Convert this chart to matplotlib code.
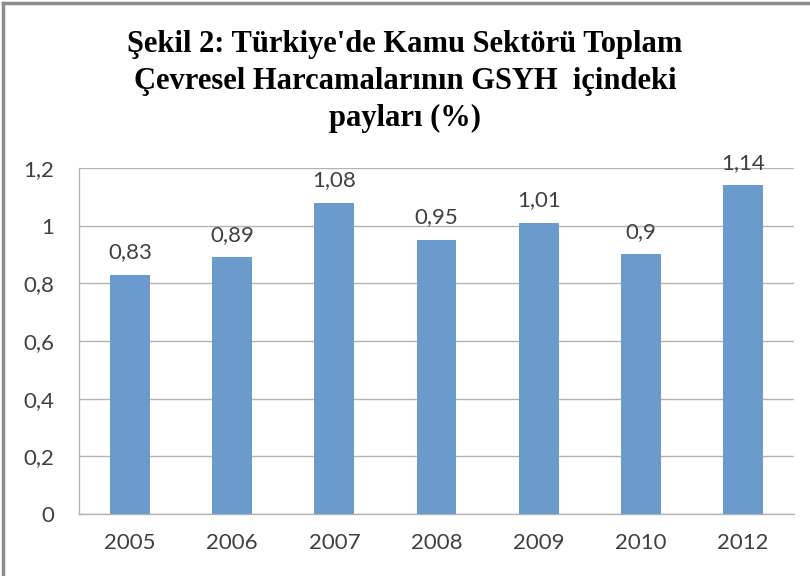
import matplotlib
matplotlib.use("Agg")
import matplotlib.pyplot as plt
from matplotlib.lines import Line2D

years = ["2005", "2006", "2007", "2008", "2009", "2010", "2012"]
values = [0.83, 0.89, 1.08, 0.95, 1.01, 0.90, 1.14]
value_labels = ["0,83", "0,89", "1,08", "0,95", "1,01", "0,9", "1,14"]
yticks = [0, 0.2, 0.4, 0.6, 0.8, 1.0, 1.2]
ytick_labels = ["0", "0,2", "0,4", "0,6", "0,8", "1", "1,2"]
title = "Şekil 2: Türkiye'de Kamu Sektörü Toplam\nÇevresel Harcamalarının GSYH  içindeki\npayları (%)"

W, H = 810, 576
fig = plt.figure(figsize=(W / 100, H / 100), dpi=100)
ax = fig.add_axes([79 / W, 1 - 514 / H, (794 - 79) / W, (514 - 168) / H])

x = list(range(len(years)))
ax.bar(x, values, width=0.39, color="#6A9BCC", zorder=3)
ax.set_xlim(-0.5, len(years) - 0.5)
ax.set_ylim(0, 1.2)
ax.set_yticks(yticks)
ax.set_yticklabels(ytick_labels)
ax.set_xticks(x)
ax.set_xticklabels(years)
ax.tick_params(axis="both", length=0, labelsize=16, colors="#404040")
ax.tick_params(axis="y", pad=18)
ax.tick_params(axis="x", pad=14)
for lab in ax.get_xticklabels() + ax.get_yticklabels():
    lab.set_family("Lato")
ax.yaxis.grid(True, color="#B3B3B3", linewidth=1, zorder=0)
for s in ["top", "right"]:
    ax.spines[s].set_visible(False)
for s in ["left", "bottom"]:
    ax.spines[s].set_color("#B3B3B3")
    ax.spines[s].set_linewidth(1)

for xi, v, lab in zip(x, values, value_labels):
    ax.annotate(lab, (xi, v), xytext=(0, 9), textcoords="offset points",
                ha="center", va="bottom", fontsize=16, color="#404040",
                family="Lato")

fig.text(0.5, 1 - 30 / H, title, ha="center", va="top", fontsize=22,
         fontweight="bold", family="Liberation Serif", linespacing=1.35)

# chart frame (left and top visible)
fig.add_artist(Line2D([3 / W, 3 / W], [0, 1 - 3 / H], color="#8C8C8C", linewidth=2.5,
                      transform=fig.transFigure))
fig.add_artist(Line2D([3 / W, 1], [1 - 3 / H, 1 - 3 / H], color="#8C8C8C", linewidth=2.5,
                      transform=fig.transFigure))

fig.savefig("out.png", dpi=100)
